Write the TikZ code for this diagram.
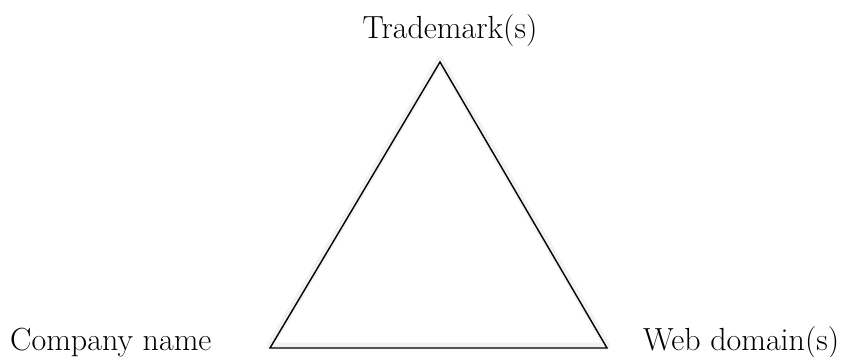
\documentclass[tikz,border=0pt]{standalone}
\begin{document}
\begin{tikzpicture}[x=1pt,y=-1pt,
  lbl/.style={inner sep=0pt,font=\fontsize{32}{38}\selectfont},
  tri/.style={draw=black,line width=1.4pt,line join=miter},
  glow/.style={draw=black!5,line width=7pt,line join=round}]
\useasboundingbox (0,0) rectangle (861,356);
\coordinate (top) at (440,62);
\coordinate (bl) at (270,348);
\coordinate (br) at (607,348);
\draw[glow] ([yshift=2pt]top) -- ([yshift=2pt]bl) -- ([yshift=2pt]br) -- cycle;
\draw[tri] (top) -- (bl) -- (br) -- cycle;
\node[lbl,anchor=base] (tm) at (450,38) {Trademark(s)};
\node[lbl,anchor=base west] (cn) at (10,350) {Company name};
\node[lbl,anchor=base west] (wd) at (643,350) {Web domain(s)};
\end{tikzpicture}
\end{document}
